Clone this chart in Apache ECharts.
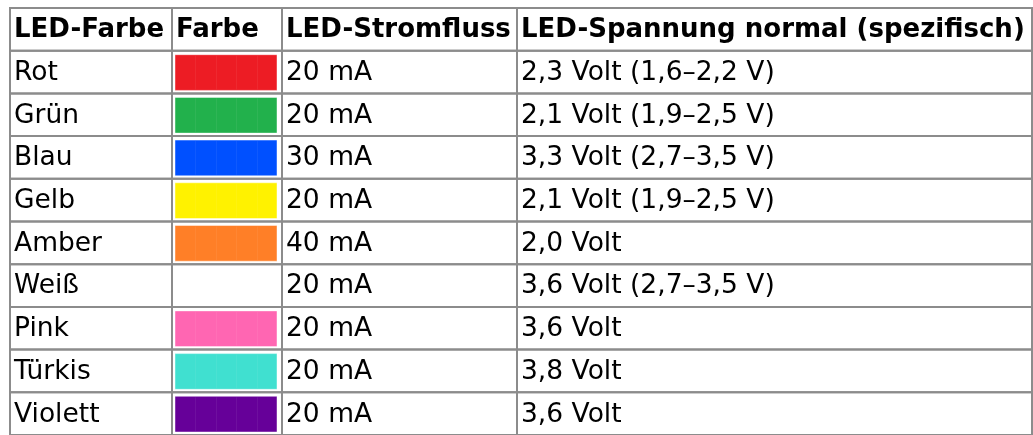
<!DOCTYPE html>
<html>
<head>
<meta charset="utf-8">
<script src="https://cdn.jsdelivr.net/npm/echarts@6/dist/echarts.min.js"></script>
<style>
html,body{margin:0;padding:0;background:#fff;}
#chart{width:1033px;height:435px;}
</style>
</head>
<body>
<div id="chart"></div>
<script>
// ---- data ----
const headers = ['LED-Farbe', 'Farbe', 'LED-Stromfluss', 'LED-Spannung normal (spezifisch)'];
const ledNames = ['Rot', 'Grün', 'Blau', 'Gelb', 'Amber', 'Weiß', 'Pink', 'Türkis', 'Violett'];
const swatchColors = ['#ED1C24', '#22B14C', '#0050FF', '#FFF200', '#FF7F27', '#FFFFFF', '#FF66B2', '#40E0D0', '#660099'];
const currents = ['20 mA', '20 mA', '30 mA', '20 mA', '40 mA', '20 mA', '20 mA', '20 mA', '20 mA'];
const voltages = ['2,3 Volt (1,6–2,2 V)', '2,1 Volt (1,9–2,5 V)', '3,3 Volt (2,7–3,5 V)', '2,1 Volt (1,9–2,5 V)', '2,0 Volt', '3,6 Volt (2,7–3,5 V)', '3,6 Volt', '3,8 Volt', '3,6 Volt'];

// ---- layout (not data) ----
const colEdges = [0, 162, 272, 507, 1022];
const rowKeys = ['header'].concat(ledNames);
const FONT = 'DejaVu Sans';
const BORDER = '#8c8c8c';

const chart = echarts.init(document.getElementById('chart'), null, {renderer: 'canvas'});

function renderItem(params, api) {
  const r = api.value(1);
  const center = api.coord([0, r]);
  const h = api.size([0, 1])[1];
  const top = center[1] - h / 2;
  const children = [];
  const isHeader = r === 0;
  for (let c = 0; c < 4; c++) {
    const x0 = api.coord([colEdges[c], r])[0];
    const x1 = api.coord([colEdges[c + 1], r])[0];
    children.push({
      type: 'rect',
      shape: {x: x0, y: top, width: x1 - x0, height: h},
      style: {fill: 'none', stroke: BORDER, lineWidth: 2},
      z2: 5
    });
    let txt = null;
    if (isHeader) txt = headers[c];
    else if (c === 0) txt = ledNames[r - 1];
    else if (c === 2) txt = currents[r - 1];
    else if (c === 3) txt = voltages[r - 1];
    if (txt !== null) {
      children.push({
        type: 'text',
        style: {
          x: x0 + 4, y: center[1] + 1,
          text: txt,
          fill: '#000',
          font: isHeader ? ('bold 26px "' + FONT + '"') : ('26.5px "' + FONT + '"'),
          align: 'left', verticalAlign: 'middle'
        },
        z2: 10
      });
    }
    if (!isHeader && c === 1) {
      const col = swatchColors[r - 1];
      const sx = x0 + 3, sw = (x1 - x0) - 8;
      const sy = top + 4, sh = h - 7;
      if (col.toUpperCase() !== '#FFFFFF') {
        children.push({
          type: 'rect',
          shape: {x: sx, y: sy, width: sw, height: sh},
          style: {fill: col, stroke: 'rgba(255,255,255,0.45)', lineWidth: 1},
          z2: 3
        });
        for (let k = 1; k < 5; k++) {
          const lx = Math.round(sx + sw * k / 5) + 0.5;
          children.push({
            type: 'line',
            shape: {x1: lx, y1: sy + 1, x2: lx, y2: sy + sh - 1},
            style: {stroke: 'rgba(255,255,255,0.06)', lineWidth: 1},
            z2: 4
          });
        }
      }
    }
  }
  return {type: 'group', children: children};
}

chart.setOption({
  animation: false,
  backgroundColor: '#fff',
  grid: {left: 10, top: 8, width: 1022, height: 430, containLabel: false},
  xAxis: {type: 'value', min: 0, max: 1022, show: false},
  yAxis: {type: 'category', data: rowKeys, inverse: true, show: false},
  series: [{
    type: 'custom',
    clip: false,
    renderItem: renderItem,
    encode: {x: 0, y: 1},
    data: rowKeys.map((k, i) => [0, i])
  }]
});
</script>
</body>
</html>
